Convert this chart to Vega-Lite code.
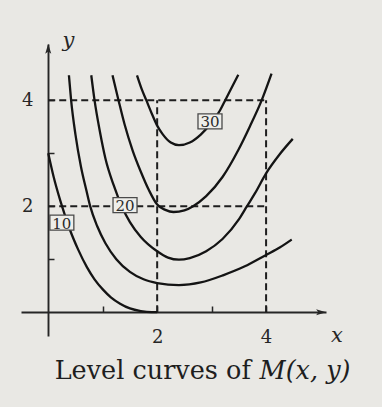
{
  "$schema": "https://vega.github.io/schema/vega-lite/v6.json",
  "width": 305,
  "height": 292,
  "autosize": "none",
  "padding": {"left": 21, "top": 44, "right": 56, "bottom": 71},
  "background": "#e9e8e4",
  "config": {
    "view": {"stroke": null},
    "axis": {
      "grid": false,
      "title": null,
      "domainColor": "#262626",
      "domainWidth": 1.9,
      "tickColor": "#262626",
      "tickWidth": 1.5,
      "tickSize": -6,
      "labelFont": "DejaVu Serif",
      "labelFontSize": 18,
      "labelColor": "#262626"
    }
  },
  "datasets": {
    "curves": [
      {"level": 10, "x": 0.0, "y": 3.0}, {"level": 10, "x": 0.1, "y": 2.55}, {"level": 10, "x": 0.22, "y": 2.11},
      {"level": 10, "x": 0.3, "y": 1.85}, {"level": 10, "x": 0.4, "y": 1.55}, {"level": 10, "x": 0.55, "y": 1.18},
      {"level": 10, "x": 0.71, "y": 0.85}, {"level": 10, "x": 0.85, "y": 0.62}, {"level": 10, "x": 1.01, "y": 0.42},
      {"level": 10, "x": 1.15, "y": 0.28}, {"level": 10, "x": 1.32, "y": 0.16}, {"level": 10, "x": 1.5, "y": 0.07},
      {"level": 10, "x": 1.7, "y": 0.02}, {"level": 10, "x": 1.9, "y": 0.0}, {"level": 10, "x": 2.0, "y": 0.0},

      {"level": 15, "x": 0.38, "y": 4.47}, {"level": 15, "x": 0.42, "y": 4.0}, {"level": 15, "x": 0.5, "y": 3.35},
      {"level": 15, "x": 0.6, "y": 2.75}, {"level": 15, "x": 0.7, "y": 2.3}, {"level": 15, "x": 0.77, "y": 2.0},
      {"level": 15, "x": 0.9, "y": 1.62}, {"level": 15, "x": 1.05, "y": 1.3}, {"level": 15, "x": 1.25, "y": 1.0},
      {"level": 15, "x": 1.5, "y": 0.76}, {"level": 15, "x": 1.75, "y": 0.62}, {"level": 15, "x": 2.0, "y": 0.55},
      {"level": 15, "x": 2.4, "y": 0.51}, {"level": 15, "x": 2.8, "y": 0.56}, {"level": 15, "x": 3.22, "y": 0.7},
      {"level": 15, "x": 3.6, "y": 0.86}, {"level": 15, "x": 4.0, "y": 1.08}, {"level": 15, "x": 4.25, "y": 1.22},
      {"level": 15, "x": 4.47, "y": 1.37},

      {"level": 20, "x": 0.79, "y": 4.47}, {"level": 20, "x": 0.85, "y": 4.0}, {"level": 20, "x": 0.95, "y": 3.4},
      {"level": 20, "x": 1.05, "y": 2.9}, {"level": 20, "x": 1.2, "y": 2.4}, {"level": 20, "x": 1.35, "y": 2.0},
      {"level": 20, "x": 1.5, "y": 1.7}, {"level": 20, "x": 1.7, "y": 1.42}, {"level": 20, "x": 2.0, "y": 1.15},
      {"level": 20, "x": 2.2, "y": 1.03}, {"level": 20, "x": 2.4, "y": 0.99}, {"level": 20, "x": 2.6, "y": 1.02},
      {"level": 20, "x": 2.9, "y": 1.15}, {"level": 20, "x": 3.2, "y": 1.38}, {"level": 20, "x": 3.5, "y": 1.75},
      {"level": 20, "x": 3.65, "y": 2.0}, {"level": 20, "x": 3.8, "y": 2.25}, {"level": 20, "x": 4.0, "y": 2.62},
      {"level": 20, "x": 4.25, "y": 2.98}, {"level": 20, "x": 4.49, "y": 3.27},

      {"level": 25, "x": 1.18, "y": 4.47}, {"level": 25, "x": 1.29, "y": 4.0}, {"level": 25, "x": 1.4, "y": 3.55},
      {"level": 25, "x": 1.55, "y": 3.05}, {"level": 25, "x": 1.7, "y": 2.65}, {"level": 25, "x": 1.85, "y": 2.3},
      {"level": 25, "x": 2.0, "y": 2.03}, {"level": 25, "x": 2.15, "y": 1.93}, {"level": 25, "x": 2.3, "y": 1.89},
      {"level": 25, "x": 2.5, "y": 1.92}, {"level": 25, "x": 2.66, "y": 2.0}, {"level": 25, "x": 2.9, "y": 2.19},
      {"level": 25, "x": 3.2, "y": 2.55}, {"level": 25, "x": 3.49, "y": 3.06}, {"level": 25, "x": 3.7, "y": 3.5},
      {"level": 25, "x": 3.92, "y": 4.0}, {"level": 25, "x": 4.1, "y": 4.5},

      {"level": 30, "x": 1.63, "y": 4.47}, {"level": 30, "x": 1.72, "y": 4.2}, {"level": 30, "x": 1.8, "y": 4.0},
      {"level": 30, "x": 1.9, "y": 3.75}, {"level": 30, "x": 2.0, "y": 3.52}, {"level": 30, "x": 2.1, "y": 3.36},
      {"level": 30, "x": 2.25, "y": 3.2}, {"level": 30, "x": 2.4, "y": 3.15}, {"level": 30, "x": 2.6, "y": 3.2},
      {"level": 30, "x": 2.8, "y": 3.35}, {"level": 30, "x": 3.0, "y": 3.58}, {"level": 30, "x": 3.15, "y": 3.8},
      {"level": 30, "x": 3.25, "y": 4.0}, {"level": 30, "x": 3.4, "y": 4.3}, {"level": 30, "x": 3.49, "y": 4.48}
    ],
    "guides": [
      {"x": 0, "y": 4, "x2": 4, "y2": 4},
      {"x": 0, "y": 2, "x2": 4, "y2": 2},
      {"x": 2, "y": 0, "x2": 2, "y2": 4},
      {"x": 4, "y": 0, "x2": 4, "y2": 4}
    ],
    "tags": [
      {"label": "10", "x": 0.25, "y": 1.69},
      {"label": "20", "x": 1.41, "y": 2.02},
      {"label": "30", "x": 2.97, "y": 3.6}
    ],
    "xArrow": [{"x": 5.01, "y": 0}],
    "yArrow": [{"x": 0, "y": 4.97}],
    "axisNames": [
      {"name": "x", "x": 5.3, "y": -0.57},
      {"name": "y", "x": 0.37, "y": 5.0}
    ],
    "caption": [
      {"text": "Level curves of", "x": 3.72, "y": -1.26},
      {"text": "M(x, y)", "x": 3.88, "y": -1.26}
    ]
  },
  "encoding": {
    "x": {
      "field": "x",
      "type": "quantitative",
      "scale": {"domain": [-0.5, 5.1], "nice": false, "zero": false},
      "axis": {
        "orient": "bottom", "offset": -24, "labelPadding": 22,
        "values": [1, 2, 3, 4], "format": "d",
        "labelExpr": "datum.value % 2 === 0 ? datum.label : ''"
      }
    },
    "y": {
      "field": "y",
      "type": "quantitative",
      "scale": {"domain": [-0.45, 5.06], "nice": false, "zero": false},
      "axis": {
        "orient": "left", "offset": -27, "labelPadding": 21,
        "values": [1, 2, 3, 4], "format": "d",
        "labelExpr": "datum.value % 2 === 0 ? datum.label : ''"
      }
    }
  },
  "layer": [
    {
      "data": {"name": "guides"},
      "mark": {"type": "rule", "color": "#1e1e1e", "strokeWidth": 2, "strokeDash": [7, 4]},
      "encoding": {"x2": {"field": "x2"}, "y2": {"field": "y2"}}
    },
    {
      "data": {"name": "curves"},
      "mark": {"type": "line", "color": "#141414", "strokeWidth": 2.3, "interpolate": "monotone"},
      "encoding": {"detail": {"field": "level", "type": "nominal"}}
    },
    {
      "data": {"name": "xArrow"},
      "mark": {"type": "point", "shape": "M-1,-0.6 L1,0 L-1,0.6 L-0.55,0 Z", "size": 100, "filled": true, "color": "#262626", "opacity": 1}
    },
    {
      "data": {"name": "yArrow"},
      "mark": {"type": "point", "shape": "M-1,-0.6 L1,0 L-1,0.6 L-0.55,0 Z", "size": 100, "angle": 270, "filled": true, "color": "#262626", "opacity": 1}
    },
    {
      "data": {"name": "tags"},
      "mark": {"type": "point", "shape": "M-1.6,-1 H1.6 V1 H-1.6 Z", "size": 225, "filled": true, "fill": "#eeeeea", "stroke": "#4a4a4a", "strokeWidth": 1.3, "opacity": 1}
    },
    {
      "data": {"name": "tags"},
      "mark": {"type": "text", "font": "DejaVu Serif", "fontSize": 15, "color": "#2a2a2a", "baseline": "middle", "dy": 1},
      "encoding": {"text": {"field": "label"}}
    },
    {
      "data": {"name": "axisNames"},
      "mark": {"type": "text", "font": "DejaVu Serif", "fontStyle": "italic", "fontSize": 21, "color": "#262626", "baseline": "alphabetic"},
      "encoding": {"text": {"field": "name"}}
    },
    {
      "data": {"name": "caption"},
      "transform": [{"filter": "datum.text === 'Level curves of'"}],
      "mark": {"type": "text", "font": "DejaVu Serif", "fontSize": 25.5, "color": "#1e1e1e", "align": "right", "baseline": "alphabetic"},
      "encoding": {"text": {"field": "text"}}
    },
    {
      "data": {"name": "caption"},
      "transform": [{"filter": "datum.text === 'M(x, y)'"}],
      "mark": {"type": "text", "font": "DejaVu Serif", "fontStyle": "italic", "fontSize": 25.5, "color": "#1e1e1e", "align": "left", "baseline": "alphabetic"},
      "encoding": {"text": {"field": "text"}}
    }
  ]
}
